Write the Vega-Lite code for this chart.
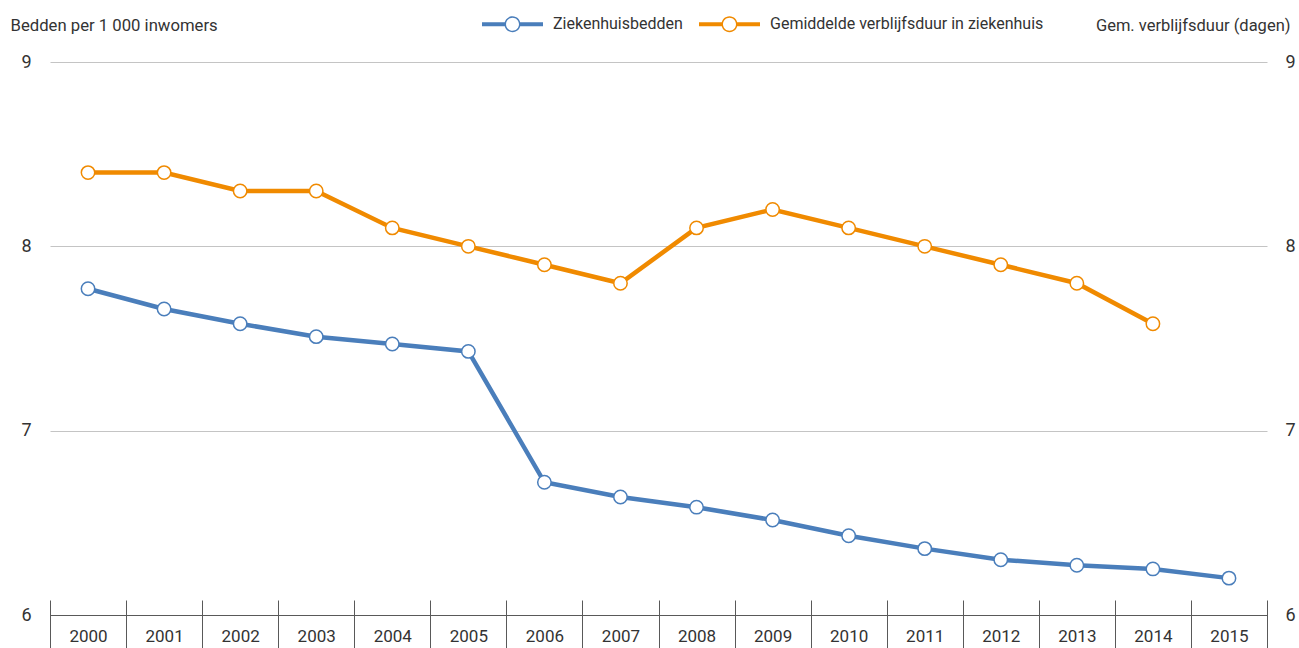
{
  "$schema": "https://vega.github.io/schema/vega-lite/v6.json",
  "autosize": {"type": "none"},
  "width": 1217,
  "height": 553,
  "padding": {"left": 50, "top": 62, "right": 32, "bottom": 33},
  "background": "white",
  "config": {
    "font": "Roboto",
    "view": {"stroke": null},
    "axis": {"labelFont": "Roboto", "titleFont": "Roboto", "labelColor": "#333333", "titleColor": "#333333"}
  },
  "data": {
    "values": [
      {"year": "2000", "series": "Ziekenhuisbedden", "value": 7.77},
      {"year": "2001", "series": "Ziekenhuisbedden", "value": 7.66},
      {"year": "2002", "series": "Ziekenhuisbedden", "value": 7.58},
      {"year": "2003", "series": "Ziekenhuisbedden", "value": 7.51},
      {"year": "2004", "series": "Ziekenhuisbedden", "value": 7.47},
      {"year": "2005", "series": "Ziekenhuisbedden", "value": 7.43},
      {"year": "2006", "series": "Ziekenhuisbedden", "value": 6.72},
      {"year": "2007", "series": "Ziekenhuisbedden", "value": 6.64},
      {"year": "2008", "series": "Ziekenhuisbedden", "value": 6.585},
      {"year": "2009", "series": "Ziekenhuisbedden", "value": 6.515},
      {"year": "2010", "series": "Ziekenhuisbedden", "value": 6.43},
      {"year": "2011", "series": "Ziekenhuisbedden", "value": 6.36},
      {"year": "2012", "series": "Ziekenhuisbedden", "value": 6.3},
      {"year": "2013", "series": "Ziekenhuisbedden", "value": 6.27},
      {"year": "2014", "series": "Ziekenhuisbedden", "value": 6.25},
      {"year": "2015", "series": "Ziekenhuisbedden", "value": 6.2},
      {"year": "2000", "series": "Gemiddelde verblijfsduur in ziekenhuis", "value": 8.4},
      {"year": "2001", "series": "Gemiddelde verblijfsduur in ziekenhuis", "value": 8.4},
      {"year": "2002", "series": "Gemiddelde verblijfsduur in ziekenhuis", "value": 8.3},
      {"year": "2003", "series": "Gemiddelde verblijfsduur in ziekenhuis", "value": 8.3},
      {"year": "2004", "series": "Gemiddelde verblijfsduur in ziekenhuis", "value": 8.1},
      {"year": "2005", "series": "Gemiddelde verblijfsduur in ziekenhuis", "value": 8.0},
      {"year": "2006", "series": "Gemiddelde verblijfsduur in ziekenhuis", "value": 7.9},
      {"year": "2007", "series": "Gemiddelde verblijfsduur in ziekenhuis", "value": 7.8},
      {"year": "2008", "series": "Gemiddelde verblijfsduur in ziekenhuis", "value": 8.1},
      {"year": "2009", "series": "Gemiddelde verblijfsduur in ziekenhuis", "value": 8.2},
      {"year": "2010", "series": "Gemiddelde verblijfsduur in ziekenhuis", "value": 8.1},
      {"year": "2011", "series": "Gemiddelde verblijfsduur in ziekenhuis", "value": 8.0},
      {"year": "2012", "series": "Gemiddelde verblijfsduur in ziekenhuis", "value": 7.9},
      {"year": "2013", "series": "Gemiddelde verblijfsduur in ziekenhuis", "value": 7.8},
      {"year": "2014", "series": "Gemiddelde verblijfsduur in ziekenhuis", "value": 7.58}
    ]
  },
  "encoding": {
    "x": {
      "field": "year", "type": "ordinal",
      "scale": {"paddingInner": 0, "paddingOuter": 0},
      "axis": {
        "title": null, "orient": "bottom", "offset": -15, "domain": false,
        "tickBand": "extent", "tickSize": 48, "tickColor": "#595959", "tickWidth": 1,
        "labelAngle": 0, "labelFontSize": 17, "labelPadding": -20, "labelBaseline": "top",
        "grid": false
      }
    },
    "y": {
      "field": "value", "type": "quantitative",
      "scale": {"domain": [6, 9], "nice": false, "zero": false}
    }
  },
  "layer": [
    {
      "mark": {"type": "rule", "opacity": 0},
      "encoding": {
        "y": {
          "field": "value", "type": "quantitative",
          "axis": {
            "orient": "right", "values": [6, 7, 8, 9], "domain": false, "ticks": false, "grid": false,
            "labelFontSize": 18, "labelPadding": 18,
            "title": "Gem. verblijfsduur (dagen)", "titleAngle": 0, "titleAlign": "right",
            "titleBaseline": "middle", "titleX": 23, "titleY": -37, "titleFontSize": 16.5, "titleFontWeight": "normal"
          }
        }
      }
    },
    {
      "mark": {
        "type": "line", "strokeWidth": 4.5,
        "point": {"filled": false, "fill": "white", "size": 180, "strokeWidth": 1.5}
      },
      "encoding": {
        "y": {
          "field": "value", "type": "quantitative",
          "axis": {
            "orient": "left", "values": [6, 7, 8, 9], "domain": false, "ticks": false,
            "grid": true, "gridColor": {"condition": {"test": "datum.value == 6", "value": "#595959"}, "value": "#c4c4c4"},
            "gridWidth": 1,
            "labelFontSize": 18, "labelPadding": 19,
            "title": "Bedden per 1 000 inwomers", "titleAngle": 0, "titleAlign": "left",
            "titleBaseline": "middle", "titleX": -40, "titleY": -37, "titleFontSize": 16.7, "titleFontWeight": "normal"
          }
        },
        "color": {
          "field": "series", "type": "nominal",
          "scale": {"domain": ["Ziekenhuisbedden", "Gemiddelde verblijfsduur in ziekenhuis"], "range": ["#4a7ebb", "#f08a00"]},
          "legend": {
            "title": null, "orient": "none", "direction": "horizontal",
            "legendX": 432, "legendY": -68.5, "padding": 0,
            "symbolType": "M-1,-0.066H-0.24V0.066H-1Z M0.24,-0.066H1V0.066H0.24Z M-0.262,0A0.262,0.262 0 1,1 0.262,0A0.262,0.262 0 1,1 -0.262,0Z M-0.213,0A0.213,0.213 0 1,0 0.213,0A0.213,0.213 0 1,0 -0.213,0Z",
            "symbolSize": 3721, "symbolStrokeWidth": 0,
            "labelFontSize": 16, "labelColor": "#333333", "labelOffset": 10, "columnPadding": 16, "labelLimit": 500,
            "encode": {"symbols": {"update": {"fill": {"scale": "color", "field": "value"}, "stroke": {"value": "transparent"}, "opacity": {"value": 1}}}}
          }
        }
      }
    }
  ]
}
